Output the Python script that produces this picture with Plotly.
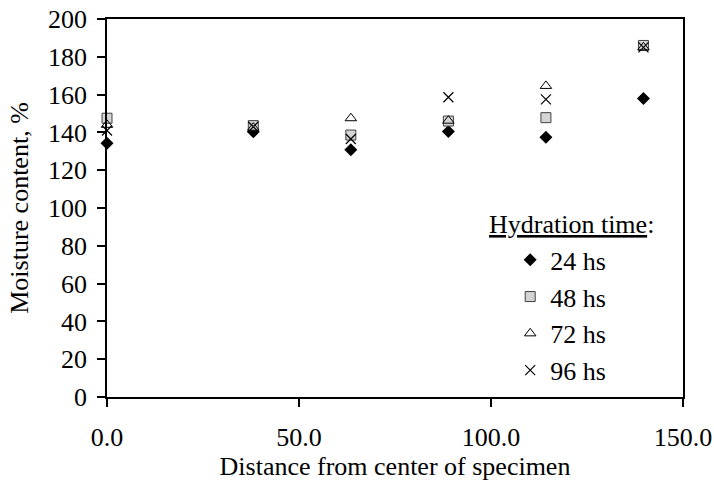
import plotly.graph_objects as go

distance = [0.0, 38.1, 63.5, 88.9, 114.3, 139.7]
series_names = ["24 hs", "48 hs", "72 hs", "96 hs"]
moisture_24 = [134.2, 140.3, 130.8, 140.5, 137.5, 158.0]
moisture_48 = [147.5, 143.6, 138.6, 146.0, 147.8, 186.0]
moisture_72 = [144.0, 142.5, 147.5, 146.2, 164.6, 185.0]
moisture_96 = [141.0, 143.0, 136.5, 158.6, 157.5, 185.0]

FONT = "Times New Roman, Liberation Serif, serif"

styles = [
    dict(symbol="diamond", size=10, color="black", line=dict(color="black", width=0)),
    dict(symbol="square", size=10, color="#d4d4d4", line=dict(color="#404040", width=1)),
    dict(symbol="triangle-up-open", size=10, color="black", line=dict(color="black", width=1)),
    dict(symbol="x-thin-open", size=10, color="black", line=dict(color="black", width=1.2)),
]
values = [moisture_24, moisture_48, moisture_72, moisture_96]

fig = go.Figure()
for i, (name, ys, st) in enumerate(zip(series_names, values, styles)):
    fig.add_trace(go.Scatter(
        x=distance, y=ys, mode="markers", name=name,
        legendgroup=f"g{i}", marker=st, cliponaxis=False,
    ))

fig.update_layout(
    width=714, height=481,
    margin=dict(l=107, r=31, t=19, b=84),
    paper_bgcolor="white", plot_bgcolor="white",
    font=dict(family=FONT, size=26, color="black"),
    showlegend=True,
    legend=dict(
        x=0.700, y=0.425, xanchor="left", yanchor="top",
        bgcolor="rgba(0,0,0,0)", font=dict(family=FONT, size=26),
        tracegroupgap=0, itemwidth=30,
    ),
    annotations=[dict(
        text="<u>Hydration time</u>:", xref="paper", yref="paper",
        x=0.953, y=0.457, xanchor="right", yanchor="middle", showarrow=False,
        font=dict(family=FONT, size=26),
    )],
)
fig.update_xaxes(
    range=[0, 150], tickvals=[0, 50, 100, 150], tickformat=".1f",
    ticks="outside", ticklen=8, tickwidth=1.5, tickcolor="black",
    showline=True, linecolor="black", linewidth=1.5, mirror=True,
    showgrid=False, zeroline=False, ticklabelstandoff=8, automargin=False,
    title=dict(text="Distance from center of specimen", standoff=0, font=dict(size=26)),
)
fig.update_yaxes(
    range=[0, 200], tickvals=list(range(0, 201, 20)),
    ticks="outside", ticklen=8, tickwidth=1.5, tickcolor="black",
    showline=True, linecolor="black", linewidth=1.5, mirror=True,
    showgrid=False, zeroline=False, ticklabelstandoff=5, automargin=False,
    title=dict(text="Moisture content, %", standoff=12, font=dict(size=26)),
)

fig.write_html("out.html")
